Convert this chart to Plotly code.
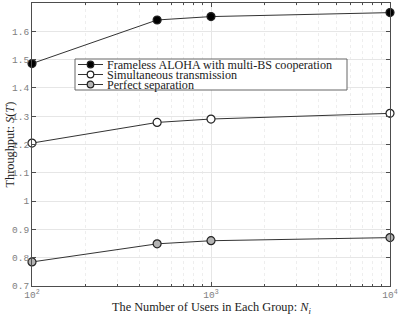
import plotly.graph_objects as go

users = [100, 500, 1000, 10000]
frameless = [1.486, 1.640, 1.652, 1.666]
simultaneous = [1.205, 1.278, 1.290, 1.310]
perfect = [0.785, 0.849, 0.860, 0.871]
names = ["Frameless ALOHA with multi-BS cooperation",
         "Simultaneous transmission",
         "Perfect separation"]
fills = ["#000000", "#ffffff", "#b3b3b3"]
x_tickvals = [100, 1000, 10000]
x_ticktext = ["10<sup>2</sup>", "10<sup>3</sup>", "10<sup>4</sup>"]
y_tickvals = [0.7, 0.8, 0.9, 1.0, 1.1, 1.2, 1.3, 1.4, 1.5, 1.6, 1.7]
y_ticktext = ["0.7", "0.8", "0.9", "1", "1.1", "1.2", "1.3", "1.4", "1.5", "1.6", "1.7"]

W, H = 399, 316
ML, MR, MT, MB = 32, 9, 3, 30
PW, PH = W - ML - MR, H - MT - MB

def px_x(p):
    return (p - ML) / PW

def px_y(p):
    return 1 - (p - MT) / PH

SERIF = "Liberation Serif, DejaVu Serif, serif"
MONO = "Liberation Mono, Courier New, monospace"

fig = go.Figure()
for ys, nm, fc in zip([frameless, simultaneous, perfect], names, fills):
    fig.add_trace(go.Scatter(
        x=users, y=ys, mode="lines+markers", name=nm, showlegend=False,
        line=dict(color="#333333", width=1),
        marker=dict(size=8, color=fc, line=dict(color="#222222", width=1.2)),
        cliponaxis=False,
    ))

axis_common = dict(
    showline=True, linecolor="#4d4d4d", linewidth=1, mirror="ticks",
    ticks="inside", ticklen=4, tickcolor="#4d4d4d",
    tickfont=dict(family=MONO, size=9.5, color="#808080"),
    zeroline=False, gridcolor="#e6e6e6", gridwidth=1, automargin=False,
)

fig.update_xaxes(
    type="log", range=[2, 4], tickvals=x_tickvals, ticktext=x_ticktext,
    showgrid=True,
    minor=dict(ticks="inside", ticklen=2, tickcolor="#4d4d4d", showgrid=True,
               gridcolor="#eeeeee", griddash="dot", dtick="D1"),
    **axis_common,
)
fig.update_yaxes(
    range=[0.7, 1.7], tickvals=y_tickvals, ticktext=y_ticktext, showgrid=True,
    **axis_common,
)

# axis titles
fig.add_annotation(
    text="The Number of Users in Each Group: <i>N<sub>i</sub></i>",
    xref="paper", yref="paper", x=0.5, y=px_y(308), xanchor="center", yanchor="middle",
    showarrow=False, font=dict(family=SERIF, size=12.3, color="#222222"),
)
fig.add_annotation(
    text="Throughput: <i>S</i>(<i>T</i>)",
    xref="paper", yref="paper", x=px_x(9), y=0.5, xanchor="center", yanchor="middle",
    textangle=-90, showarrow=False, font=dict(family=SERIF, size=12.3, color="#222222"),
)

# legend (drawn manually to match the compact MATLAB legend)
fig.add_shape(type="rect", xref="paper", yref="paper",
              x0=px_x(75), x1=px_x(347), y0=px_y(90), y1=px_y(59),
              line=dict(color="#666666", width=1), fillcolor="white", layer="above")
row_centers = [64.5, 74.5, 84.5]
r = 3.3
for yc, nm, fc in zip(row_centers, names, fills):
    fig.add_shape(type="line", xref="paper", yref="paper",
                  x0=px_x(78), x1=px_x(103), y0=px_y(yc), y1=px_y(yc),
                  line=dict(color="#333333", width=1), layer="above")
    fig.add_shape(type="circle", xref="paper", yref="paper",
                  x0=px_x(90.5 - r), x1=px_x(90.5 + r), y0=px_y(yc + r), y1=px_y(yc - r),
                  line=dict(color="#222222", width=1.2), fillcolor=fc, layer="above")
    fig.add_annotation(text=nm, xref="paper", yref="paper",
                       x=px_x(105), y=px_y(yc), xanchor="left", yanchor="middle",
                       showarrow=False, font=dict(family=SERIF, size=12.1, color="#222222"))

fig.update_layout(
    width=W, height=H,
    margin=dict(l=ML, r=MR, t=MT, b=MB),
    paper_bgcolor="white", plot_bgcolor="white",
    showlegend=False,
)

fig.write_html(
    "out.html",
    config={"displayModeBar": False, "staticPlot": True},
    post_script="document.body.style.margin='0';document.body.style.overflow='hidden';",
)
